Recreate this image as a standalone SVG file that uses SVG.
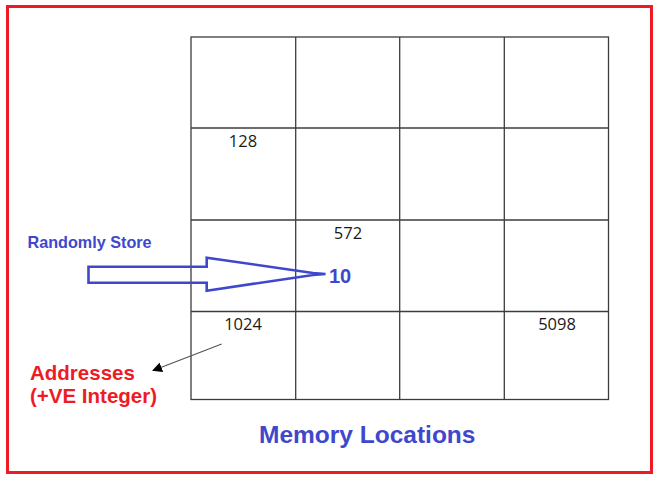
<svg xmlns="http://www.w3.org/2000/svg" width="660" height="481" viewBox="0 0 660 481">
<defs>
<style>
.grid{stroke:#3c3c3c;stroke-width:1.3;fill:none}
.num{font-family:"Open Sans","Liberation Sans",sans-serif;font-size:16.5px;fill:#1a1a1a;text-anchor:middle}
.blue{font-family:"Liberation Sans",Arial,sans-serif;font-weight:bold;fill:#3f48cc}
.red{font-family:"Liberation Sans",Arial,sans-serif;font-weight:bold;fill:#ed1c24;font-size:20.5px}
</style>
<marker id="ah" viewBox="0 0 10 10" refX="9" refY="5" markerWidth="10" markerHeight="10" markerUnits="userSpaceOnUse" orient="auto">
<path d="M0,0 L10,5 L0,10 Z" fill="#000"/>
</marker>
</defs>
<rect width="660" height="481" fill="#fff"/>
<rect x="7.5" y="6.5" width="644" height="466" fill="none" stroke="#ed1c24" stroke-width="3"/>
<g id="grid" class="grid">
<rect x="191" y="37" width="417.5" height="362.5"/>
<line x1="295.7" y1="37" x2="295.7" y2="399.5"/>
<line x1="399.7" y1="37" x2="399.7" y2="399.5"/>
<line x1="504.3" y1="37" x2="504.3" y2="399.5"/>
<line x1="191" y1="128" x2="608.5" y2="128"/>
<line x1="191" y1="220" x2="608.5" y2="220"/>
<line x1="191" y1="311.5" x2="608.5" y2="311.5"/>
</g>
<g id="cell-128"><text class="num" x="243" y="147">128</text></g>
<g id="cell-572"><text class="num" x="348" y="238.5">572</text></g>
<g id="cell-1024"><text class="num" x="243" y="330">1024</text></g>
<g id="cell-5098"><text class="num" x="557" y="330">5098</text></g>
<g id="value-10"><text class="blue" x="329" y="282.7" font-size="20">10</text></g>
<g id="randomly-store"><text class="blue" x="27.5" y="248.3" font-size="16.2">Randomly Store</text></g>
<g id="addresses">
<text class="red" x="30" y="380">Addresses</text>
<text class="red" x="30" y="403">(+VE Integer)</text>
</g>
<g id="title"><text class="blue" x="259" y="442.7" font-size="24.5">Memory Locations</text></g>
<g id="connectors">
<path d="M88.5,266.7 L206.7,266.7 L206.7,257.7 L313,273 L325.5,274 L313,275 L206.7,290.7 L206.7,282.7 L88.5,282.7 Z" fill="none" stroke="#3f48cc" stroke-width="2.6" stroke-linejoin="miter"/>
<line x1="221.7" y1="344" x2="153" y2="370.5" stroke="#555" stroke-width="1.2" marker-end="url(#ah)"/>
</g>
</svg>
